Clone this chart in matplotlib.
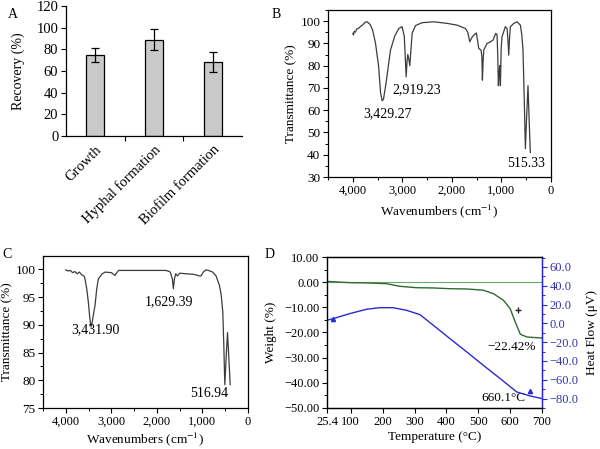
import matplotlib
matplotlib.use("Agg")
import matplotlib.pyplot as plt
from matplotlib.ticker import MultipleLocator, FuncFormatter, FixedLocator

plt.rcParams['font.family'] = ['Liberation Serif', 'DejaVu Serif']
plt.rcParams['font.size'] = 9.5
plt.rcParams['mathtext.fontset'] = 'stix'
plt.rcParams['axes.unicode_minus'] = True

# ---------------- Data ----------------
# Panel A
categories = ["Growth", "Hyphal formation", "Biofilm formation"]
recovery = [75, 89, 68.5]
recovery_err = [6.5, 9.5, 9.5]

# Panel B (FTIR)
wnB = [4000, 3985, 3970, 3950, 3920, 3880, 3850, 3800, 3750, 3709,
       3650, 3600, 3541, 3480, 3440, 3407, 3380, 3330, 3239, 3150,
       3071, 3004, 2960, 2923, 2905, 2890, 2870, 2849, 2830, 2802,
       2735, 2600, 2365, 2100, 1895, 1727, 1680, 1640, 1600, 1559,
       1505, 1480, 1458, 1411, 1395, 1384, 1370, 1357, 1290, 1223,
       1169, 1116, 1089, 1075, 1062, 1050, 1035, 1028, 1021, 1005,
       988, 921, 887, 870, 853, 835, 820, 750, 685, 618,
       590, 565, 540, 517, 490, 464, 440, 417]
tB = [94.5, 93.8, 95.5, 95.0, 96.5, 96.8, 97.5, 98.3, 99.5, 99.7,
      98.5, 96.0, 90.0, 80.0, 68.0, 64.2, 65.0, 72.0, 87.0, 93.5,
      96.7, 97.5, 93.0, 75.0, 82.0, 85.0, 83.0, 80.0, 86.0, 94.5,
      98.0, 99.3, 99.7, 99.0, 98.2, 96.7, 95.0, 90.7, 92.5, 93.7,
      94.7, 91.0, 87.7, 87.0, 84.0, 73.5, 82.0, 87.0, 90.0, 90.7,
      91.5, 94.5, 94.0, 85.0, 71.0, 76.0, 80.0, 76.0, 71.0, 88.0,
      93.0, 97.5, 96.7, 92.0, 84.7, 93.0, 97.5, 99.0, 99.7, 98.2,
      94.0, 87.0, 65.0, 42.7, 58.0, 71.0, 55.0, 41.0]
peaksB = [("3,429.27", 3293, 58.5), ("2,919.23", 2701, 69.0), ("515.33", 511, 36.0)]

# Panel C (FTIR)
wnC = [4000, 3950, 3900, 3850, 3800, 3750, 3700, 3650, 3600, 3579,
       3540, 3505, 3470, 3446, 3420, 3390, 3358, 3320, 3284, 3200,
       3136, 3000, 2952, 2920, 2890, 2841, 2500, 2100, 1808, 1720,
       1697, 1660, 1638, 1615, 1587, 1550, 1500, 1365, 1200, 1100,
       1070, 1033, 980, 922, 870, 775, 700, 627, 590, 553,
       530, 509, 480, 450, 420, 391]
tC = [99.9, 99.7, 99.8, 99.4, 99.6, 99.2, 99.5, 99.0, 98.8, 98.3,
      96.5, 94.1, 91.0, 89.6, 90.5, 92.0, 93.5, 96.5, 98.3, 99.2,
      99.5, 99.4, 99.1, 98.9, 99.3, 99.8, 99.8, 99.8, 99.8, 99.6,
      99.3, 98.2, 96.5, 98.3, 99.2, 98.8, 99.3, 99.2, 99.1, 98.9,
      98.8, 98.8, 99.5, 99.9, 99.8, 99.5, 98.8, 97.1, 95.5, 92.3,
      86.0, 79.2, 84.0, 88.6, 84.0, 79.2]
peaksC = [("3,431.90", 3358, 89.1), ("1,629.39", 1734, 94.2), ("516.94", 849, 77.6)]

# Panel D (TGA / DTA)
tempW = [25.4, 97, 149, 212, 254, 307, 359, 411, 464, 516, 548, 579, 600, 616, 632, 653, 700]
weight = [0.3, -0.2, -0.3, -0.6, -1.65, -2.2, -2.3, -2.6, -2.7, -3.2, -4.6, -7.2, -10.5, -15.8, -20.7, -21.8, -22.2]
tempH = [25.4, 44, 97, 149, 191, 233, 275, 317, 359, 411, 464, 516, 569, 621, 663, 700]
heatflow = [3.3, 5.0, 10.4, 15.0, 16.7, 16.7, 13.9, 9.3, -2.0, -16.2, -30.4, -44.6, -58.8, -73.0, -77.2, -80.0]
tempTicks = [25.4, 100, 200, 300, 400, 500, 600, 700]

# ---------------- Figure ----------------
W, H = 600, 449
fig = plt.figure(figsize=(6.0, 4.49), dpi=100)

def px_axes(l, r, t, b):
    return fig.add_axes([l / W, (H - b) / H, (r - l) / W, (b - t) / H])

def style(ax, xs=9, ys=9.5):
    ax.tick_params(direction='out', length=3.5, width=0.8, pad=2)
    ax.tick_params(which='minor', direction='out', length=2, width=0.7)
    ax.tick_params(axis='x', labelsize=xs)
    ax.tick_params(axis='y', labelsize=ys)
    for s in ax.spines.values():
        s.set_linewidth(0.9)

thousands = FuncFormatter(lambda v, p: f"{int(round(v)):,}")

# Panel A
axA = px_axes(66, 242, 6, 136)
style(axA, 10.5, 10.5)
xs = list(range(len(categories)))
axA.bar(xs, recovery, width=0.31, color='#c9c9c9', edgecolor='black', linewidth=0.9,
        yerr=recovery_err, capsize=3, error_kw=dict(elinewidth=0.9, capthick=0.9, ecolor='black'))
axA.set_xlim(-0.5, 2.5)
axA.set_ylim(0, 120)
axA.yaxis.set_major_locator(MultipleLocator(20))
axA.set_xticks([0.5, 1.5])
axA.set_xticklabels([])
axA.set_xticks(xs, minor=True)
axA.set_xticklabels(categories, minor=True, rotation=45, ha='right', rotation_mode='anchor', fontsize=10.5)
axA.tick_params(axis='x', which='minor', length=0, pad=5)
axA.spines['top'].set_visible(False)
axA.spines['right'].set_visible(False)
axA.set_ylabel("Recovery (%)", fontsize=10)
axA.yaxis.set_label_coords(-0.233, 0.5)

# Panel B
axB = px_axes(328, 551, 10, 177)
style(axB)
axB.plot(wnB, tB, color='#3c3c3c', lw=0.9)
axB.set_xlim(4500, 0)
axB.set_ylim(30, 105)
axB.xaxis.set_major_locator(MultipleLocator(1000))
axB.xaxis.set_minor_locator(MultipleLocator(500))
axB.yaxis.set_major_locator(MultipleLocator(10))
axB.yaxis.set_minor_locator(MultipleLocator(5))
axB.xaxis.set_major_formatter(thousands)
axB.set_ylabel("Transmittance (%)")
axB.yaxis.set_label_coords(-0.139, 0.5)
axB.set_xlabel("Wavenumbers (cm$^{-1}$)")
axB.xaxis.set_label_coords(0.5, -0.15)
for lab, x, y in peaksB:
    axB.text(x, y, lab, ha='center', va='center', fontsize=10)

# Panel C
axC = px_axes(43, 248, 256, 408)
style(axC)
axC.plot(wnC, tC, color='#3c3c3c', lw=0.9)
axC.set_xlim(4500, 0)
axC.set_ylim(75, 102.4)
axC.xaxis.set_major_locator(MultipleLocator(1000))
axC.xaxis.set_minor_locator(MultipleLocator(500))
axC.yaxis.set_major_locator(MultipleLocator(5))
axC.yaxis.set_minor_locator(MultipleLocator(2.5))
axC.xaxis.set_major_formatter(thousands)
axC.set_ylabel("Transmittance (%)")
axC.yaxis.set_label_coords(-0.146, 0.5)
axC.set_xlabel("Wavenumbers (cm$^{-1}$)")
axC.xaxis.set_label_coords(0.5, -0.145)
for lab, x, y in peaksC:
    axC.text(x, y, lab, ha='center', va='center', fontsize=10)

# Panel D
green = '#2f6a2f'
blue = '#2a2ad0'
axD = px_axes(327, 542, 257, 408)
style(axD, 9, 9)
axD.axhline(0, color='#6aa86a', lw=0.8)
axD.plot(tempW, weight, color=green, lw=1.0)
axD.plot([626], [-11.2], marker='+', color='#222222', ms=4, mew=1)
axD.set_xlim(25.4, 700)
axD.set_ylim(-50, 10)
axD.xaxis.set_major_locator(FixedLocator(tempTicks))
axD.xaxis.set_major_formatter(FuncFormatter(lambda v, p: "25.4" if abs(v - 25.4) < 0.01 else f"{int(v)}"))
axD.yaxis.set_major_locator(MultipleLocator(10))
axD.yaxis.set_minor_locator(MultipleLocator(5))
axD.yaxis.set_major_formatter(FuncFormatter(lambda v, p: f"{v:.2f}".replace('-', '\u2212')))
axD.spines['left'].set_color('#2f4f2f')
axD.set_ylabel("Weight (%)")
axD.yaxis.set_label_coords(-0.233, 0.5)
axD.set_xlabel("Temperature (°C)")
axD.xaxis.set_label_coords(0.5, -0.152)
axD.text(605, -25.8, "\u221222.42%", ha='center', va='center', fontsize=9.5)
axD.text(579, -46, "660.1°C", ha='center', va='center', fontsize=9.5)

axD2 = axD.twinx()
style(axD2, 9, 9)
axD2.plot(tempH, heatflow, color=blue, lw=1.0)
axD2.plot([44, 661], [5.0, -72.0], linestyle='none', marker='^', color=blue, ms=3)
axD2.set_xlim(25.4, 700)
axD2.set_ylim(-90, 70.6)
axD2.yaxis.set_major_locator(MultipleLocator(20))
axD2.yaxis.set_minor_locator(MultipleLocator(10))
axD2.yaxis.set_major_formatter(FuncFormatter(lambda v, p: f"{v:.1f}".replace('-', '\u2212')))
axD2.tick_params(axis='y', which='both', colors=blue, labelcolor='#3333aa')
axD2.spines['right'].set_color(blue)
axD2.set_ylabel("Heat Flow (μV)")
axD2.yaxis.set_label_coords(1.205, 0.5)

# Panel letters
fig.text(8 / W, 1 - 15 / H, "A", fontsize=10, va='center')
fig.text(272 / W, 1 - 15 / H, "B", fontsize=10, va='center')
fig.text(2 / W, 1 - 254 / H, "C", fontsize=10, va='center')
fig.text(265 / W, 1 - 254 / H, "D", fontsize=10, va='center')

fig.savefig("out.png", dpi=100)
